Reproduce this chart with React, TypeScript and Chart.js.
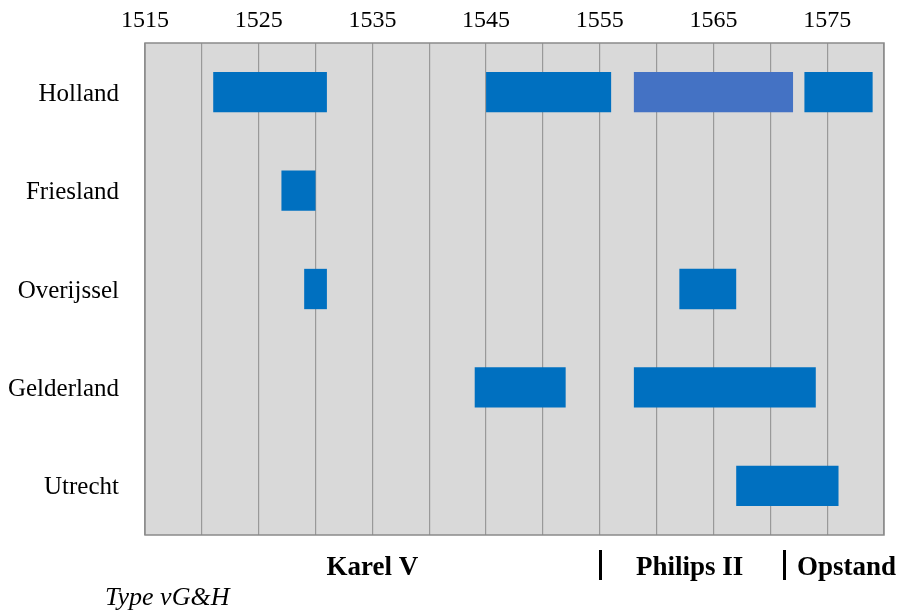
import React, { useEffect, useRef } from "react";
import { Chart, registerables } from "chart.js";

Chart.register(...registerables);

const provinces = ["Holland", "Friesland", "Overijssel", "Gelderland", "Utrecht"];

// floating spans [start year, end year] per province
const spansA: ([number, number] | null)[] = [[1521, 1531], [1527, 1530], [1529, 1531], [1544, 1552], [1567, 1576]];
const spansB: ([number, number] | null)[] = [[1545, 1556], null, [1562, 1567], [1558, 1574], null];
const spansC: ([number, number] | null)[] = [[1558, 1572], null, null, null, null];
const spansD: ([number, number] | null)[] = [[1573, 1579], null, null, null, null];

const colorsA = ["#0070C0", "#0070C0", "#0070C0", "#0070C0", "#0070C0"];
const colorsB = ["#0070C0", "#0070C0", "#0070C0", "#0070C0", "#0070C0"];
const colorsC = ["#4472C4", "#0070C0", "#0070C0", "#0070C0", "#0070C0"];
const colorsD = ["#0070C0", "#0070C0", "#0070C0", "#0070C0", "#0070C0"];

const yearMin = 1515;
const yearMax = 1580;
const labelStart = 1515;
const labelStep = 10;
const gridStep = 5;

// period annotations below the chart (year positions)
const periodLabels = ["Karel V", "Philips II", "Opstand"];
const periodCenters = [1535, 1562.9, 1576.7];
const periodSeparators = [1555, 1571.2];
const sourceNote = "Type vG&H";

const serif = "'Liberation Serif', 'Times New Roman', serif";

const framePlugin = {
  id: "frame",
  beforeDraw(chart: any) {
    const { ctx, chartArea: a } = chart;
    ctx.save();
    ctx.fillStyle = "#D9D9D9";
    ctx.fillRect(a.left, a.top, a.right - a.left, a.bottom - a.top);
    ctx.restore();
  },
  afterDraw(chart: any) {
    const { ctx, chartArea: a, scales } = chart;
    const x = scales.x;
    ctx.save();
    ctx.strokeStyle = "#8a8a8a";
    ctx.lineWidth = 1.5;
    ctx.strokeRect(a.left, a.top, a.right - a.left, a.bottom - a.top);

    ctx.fillStyle = "#000";
    ctx.textBaseline = "alphabetic";
    ctx.font = `bold 27px ${serif}`;
    ctx.textAlign = "center";
    periodLabels.forEach((t, i) => {
      ctx.fillText(t, x.getPixelForValue(periodCenters[i]), 575);
    });
    ctx.strokeStyle = "#000";
    ctx.lineWidth = 3;
    periodSeparators.forEach((v) => {
      const px = Math.round(x.getPixelForValue(v)) + 0.5;
      ctx.beginPath();
      ctx.moveTo(px, 550);
      ctx.lineTo(px, 580);
      ctx.stroke();
    });
    ctx.font = `italic 26px ${serif}`;
    ctx.textAlign = "left";
    ctx.fillText(sourceNote, 105, 605);
    ctx.restore();
  },
};

export default function App() {
  const ref = useRef<HTMLCanvasElement | null>(null);

  useEffect(() => {
    if (!ref.current) return;
    const mk = (data: any[], colors: string[]) => ({
      data,
      backgroundColor: colors,
      borderWidth: 0,
      grouped: false,
      categoryPercentage: 1,
      barPercentage: 0.41,
    });
    const chart = new Chart(ref.current, {
      type: "bar",
      data: {
        labels: provinces,
        datasets: [mk(spansA, colorsA), mk(spansB, colorsB), mk(spansC, colorsC), mk(spansD, colorsD)] as any,
      },
      options: {
        indexAxis: "y",
        animation: false,
        responsive: false,
        maintainAspectRatio: false,
        layout: { padding: { left: 0, right: 19, top: 0, bottom: 77 } },
        plugins: { legend: { display: false }, tooltip: { enabled: false } },
        scales: {
          x: {
            position: "top",
            min: yearMin,
            max: yearMax,
            afterFit(scale: any) {
              scale.height = 43;
            },
            ticks: {
              stepSize: gridStep,
              autoSkip: false,
              maxRotation: 0,
              padding: 8,
              color: "#000",
              font: { family: serif, size: 24 },
              callback: (v: any) => ((Number(v) - labelStart) % labelStep === 0 ? String(v) : ""),
            },
            grid: { color: "#999999", lineWidth: 1.2, drawTicks: false },
            border: { display: false },
          },
          y: {
            afterFit(scale: any) {
              scale.width = 145;
            },
            ticks: {
              padding: 26,
              labelOffset: 2,
              color: "#000",
              font: { family: serif, size: 25 },
            },
            grid: { display: false, drawTicks: false },
            border: { display: false },
          },
        },
      },
      plugins: [framePlugin],
    });
    return () => chart.destroy();
  }, []);

  return (
    <div style={{ position: "absolute", left: 0, top: 0, width: 903, height: 612, background: "#fff" }}>
      <canvas ref={ref} width={903} height={612} style={{ width: 903, height: 612, display: "block" }} />
    </div>
  );
}
